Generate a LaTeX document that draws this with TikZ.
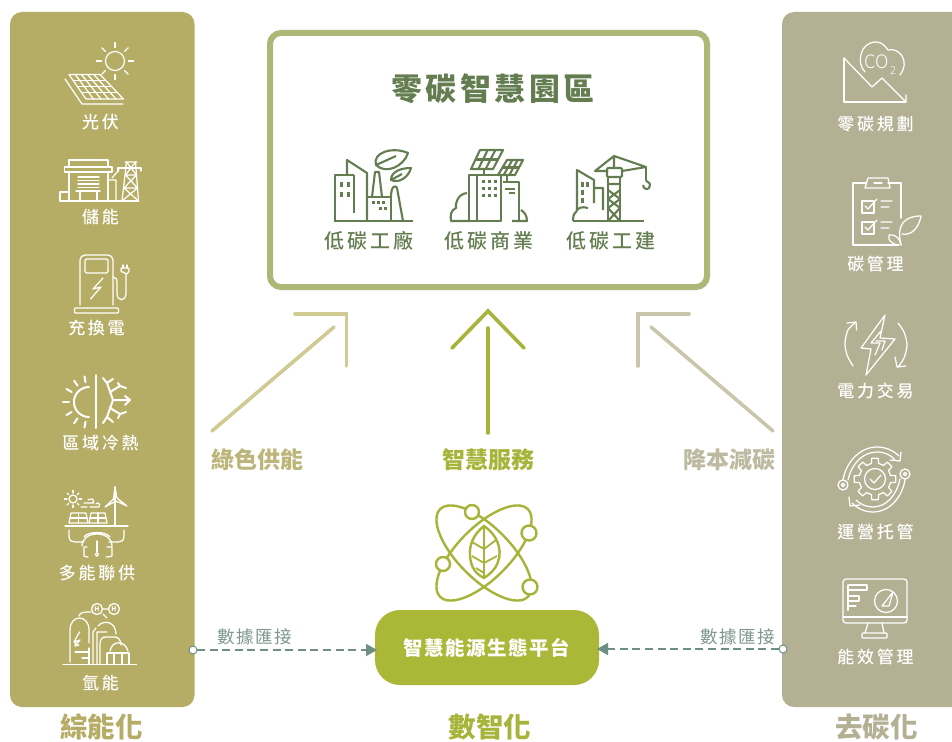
\documentclass[tikz,border=0pt]{standalone}
\usepackage{fontspec}
\setmainfont{Noto Sans CJK TC}
\newfontfamily\cjkheavy{Noto Sans CJK TC Black}
\newfontfamily\cjkmed{Noto Sans CJK TC Medium}
\newfontfamily\cjklight{Noto Sans CJK TC Light}
\usetikzlibrary{calc,arrows.meta}
\definecolor{olivepanel}{HTML}{B5AC66}
\definecolor{greypanel}{HTML}{B3B093}
\definecolor{framegreen}{HTML}{AEB778}
\definecolor{darkgreen}{HTML}{647D50}
\definecolor{limefill}{HTML}{ABB737}
\definecolor{limeline}{HTML}{A6B53A}
\definecolor{arrowolive}{HTML}{CFCB92}
\definecolor{arrowgrey}{HTML}{C9C6AC}
\definecolor{textolive}{HTML}{BDB67B}
\definecolor{textgrey}{HTML}{BCBAA0}
\definecolor{linkteal}{HTML}{6F8F83}
\definecolor{tealtext}{HTML}{7F978E}
\newcommand{\gridpanel}[7]{%
  \coordinate (pA) at #2; \coordinate (pB) at #3; \coordinate (pC) at #4; \coordinate (pD) at #5;
  \draw[#1] (pA)--(pB)--(pC)--(pD)--cycle;
  \foreach \i in {1,...,#6}{\pgfmathsetmacro\tval{\i/(#6+1)}\draw[#1] ($(pA)!\tval!(pB)$)--($(pD)!\tval!(pC)$);}
  \foreach \i in {1,...,#7}{\pgfmathsetmacro\tval{\i/(#7+1)}\draw[#1] ($(pA)!\tval!(pD)$)--($(pB)!\tval!(pC)$);}}
\tikzset{
  panelL/.style={fill=olivepanel,rounded corners=12pt,minimum width=184.5pt,minimum height=695pt,inner sep=0pt,outer sep=0pt},
  panelR/.style={fill=greypanel,rounded corners=12pt,minimum width=200pt,minimum height=695pt,inner sep=0pt,outer sep=0pt},
  framebox/.style={draw=framegreen,line width=6pt,fill=white,rounded corners=11pt,minimum width=437pt,minimum height=254pt,inner sep=0pt,outer sep=0pt},
  platform/.style={fill=limefill,rounded corners=25pt,minimum width=224pt,minimum height=75pt,inner sep=0pt,outer sep=0pt,text=white},
  platformtext/.style={text=white,inner sep=0pt,font=\fontsize{19.5}{19.5}\selectfont\bfseries\addfontfeature{LetterSpace=8}},
  whitelabel/.style={text=white,inner sep=0pt,font=\fontsize{17}{17}\cjkmed\addfontfeature{LetterSpace=16}},
  greenlabel/.style={text=darkgreen,inner sep=0pt,font=\fontsize{20}{20}\cjkmed\addfontfeature{LetterSpace=15}},
  titlelabel/.style={text=darkgreen,inner sep=0pt,font=\fontsize{31}{31}\cjkheavy\addfontfeature{LetterSpace=11}},
  midlabel/.style={inner sep=0pt,font=\fontsize{23}{23}\selectfont\bfseries},
  biglabel/.style={inner sep=0pt,font=\fontsize{27.5}{27.5}\selectfont\bfseries},
  linklabel/.style={text=tealtext,inner sep=0pt,font=\fontsize{17.5}{17.5}\selectfont\addfontfeature{LetterSpace=9}},
  ic/.style={draw=white,line width=1.25pt,line cap=round,line join=round},
  icb/.style={draw=white,line width=2pt,line cap=round,line join=round},
  ig/.style={draw=darkgreen,line width=2.1pt,line join=round},
  wf/.style={fill=darkgreen,draw=none},
  atomline/.style={draw=limeline,line width=2.4pt},
  bigarrow/.style={line width=3.6pt,line cap=round,line join=miter},
  linkdot/.style={circle,draw=linkteal,fill=white,line width=1pt,minimum size=8pt,inner sep=0pt,outer sep=0pt},
  linkline/.style={draw=linkteal,line width=1.6pt,dash pattern=on 8pt off 4.6pt,-{Triangle[length=11pt,width=12pt,fill=linkteal]},shorten >=-2pt},
}
\begin{document}
\begin{tikzpicture}[x=1pt,y=-1pt]
\clip (0,0) rectangle (952,741);
\fill[white] (0,0) rectangle (952,741);
% panels
\node[panelL] (lpanel) at (102.25,359.5) {};
\node[panelR] (rpanel) at (882,359.5) {};
\node[framebox] (zone) at (488.5,160) {};
\node[platform] (plat) at (487,647.5) {};
\node[platformtext] (plattext) at (487,648) {智慧能源生態平台};
% titles
\node[titlelabel] (title) at (493,89) {零碳智慧園區};
\node[greenlabel] (g1) at (369,241) {低碳工廠};
\node[greenlabel] (g2) at (489,241) {低碳商業};
\node[greenlabel] (g3) at (611,241) {低碳工建};
\node[whitelabel] (l1) at (100.5,122) {光伏};
\node[whitelabel] (l2) at (100.5,217) {儲能};
\node[whitelabel] (l3) at (96.5,328) {充換電};
\node[whitelabel] (l4) at (100.5,443) {區域冷熱};
\node[whitelabel] (l5) at (97,573) {多能聯供};
\node[whitelabel] (l6) at (100.5,683) {氫能};
\node[whitelabel] (r1) at (875.5,124) {零碳規劃};
\node[whitelabel] (r2) at (875.5,264) {碳管理};
\node[whitelabel] (r3) at (875.5,391) {電力交易};
\node[whitelabel] (r4) at (875.5,532) {運營托管};
\node[whitelabel] (r5) at (875.5,657) {能效管理};
\node[biglabel,text=olivepanel] (b1) at (101.5,727) {綜能化};
\node[biglabel,text=limeline] (b2) at (490,727) {數智化};
\node[biglabel,text=greypanel] (b3) at (876.5,727) {去碳化};
\node[midlabel,text=textolive] (m1) at (257.5,460) {綠色供能};
\node[midlabel,text=limeline] (m2) at (488,460) {智慧服務};
\node[midlabel,text=textgrey] (m3) at (729.5,460) {降本減碳};
\node[linklabel] (k1) at (254.5,637) {數據匯接};
\node[linklabel] (k2) at (737.5,637) {數據匯接};
% large arrows
\coordinate (a1s) at (212,431); \coordinate (a1e) at (334,327);
\coordinate (a1p) at (295,314); \coordinate (a1c) at (346.5,314); \coordinate (a1q) at (346.5,366);
\draw[bigarrow,arrowolive] (a1s) -- (a1e);
\draw[bigarrow,arrowolive] (a1p) -- (a1c) -- (a1q);
\coordinate (a2s) at (488,433); \coordinate (a2e) at (488,328);
\coordinate (a2p) at (452,348); \coordinate (a2c) at (488,311); \coordinate (a2q) at (524,348);
\draw[bigarrow,limeline] (a2s) -- (a2e);
\draw[bigarrow,limeline] (a2p) -- (a2c) -- (a2q);
\coordinate (a3s) at (773,431); \coordinate (a3e) at (651,327);
\coordinate (a3p) at (689,314); \coordinate (a3c) at (638,314); \coordinate (a3q) at (638,366);
\draw[bigarrow,arrowgrey] (a3s) -- (a3e);
\draw[bigarrow,arrowgrey] (a3p) -- (a3c) -- (a3q);
% links
\node[linkdot] (ld) at (193,650) {};
\node[linkdot] (rd) at (783,649) {};
\draw[linkline] (ld) -- (ld -| plat.west);
\draw[linkline] (rd) -- (rd -| plat.east);
% atom icon
\draw[atomline] (484,553) ellipse [x radius=62,y radius=26,rotate=45];
\draw[atomline] (484,553) ellipse [x radius=62,y radius=26,rotate=-45];
\foreach \px/\py/\pr in {472/512/7,529/533/7.5,443/564/7,530/587/7.5}
  \draw[atomline,fill=white] (\px,\py) circle[radius=\pr];
\draw[atomline] (484,526) .. controls (496,534) and (503,548) .. (498,562) .. controls (495,570) and (490,574) .. (484,578) .. controls (476,574) and (471,568) .. (470,556) .. controls (469,544) and (474,534) .. (484,526) -- cycle;
\draw[atomline,line width=1.8pt] (484,526) -- (484,578);
\draw[atomline,line width=1.8pt] (484,549) -- (496,540) (484,563) -- (497,556) (484,549) -- (472,542) (484,563) -- (472,556) (484,573) -- (476,568);
% ---------- left icons
% solar
\draw[ic] (115,61) circle[radius=9.5];
\foreach \a in {0,45,...,315}
  \draw[ic] ({115+13.5*cos(\a)},{61+13.5*sin(\a)}) -- ({115+18.5*cos(\a)},{61+18.5*sin(\a)});
\gridpanel{ic}{(69,74.5)}{(100,74.5)}{(123.5,99)}{(86,99)}{4}{3}
\draw[ic] (65,79) -- (82,104) -- (123,104);
% storage
\draw[ic] (69,167) -- (69,160) -- (108,160) -- (108,167);
\draw[ic] (64.5,167) rectangle (112,172);
\draw[ic] (69,172) -- (69,201) (108,172) -- (108,201);
\draw[ic] (78,177) -- (99,177) (78,180.5) -- (99,180.5) (78,184) -- (99,184) (78,187.5) -- (99,187.5);
\draw[ic] (76,191) -- (100,191) (80,191) -- (80,201) (97,191) -- (97,201);
\draw[ic] (60,201) -- (60,192) -- (69,192);
\draw[ic] (60,201) -- (138.5,201);
\draw[ic] (108,180) -- (116,180) -- (116,201) (112,178) -- (119,170);
\draw[ic] (125,162) -- (137,162) (126.5,162) -- (122,201) (135.5,162) -- (138.5,201);
\draw[ic] (118,171) -- (118,168) -- (141,168) -- (141,171);
\draw[ic] (125.5,175) -- (136.5,175) (124,188) -- (137.5,188) (125.5,175) -- (137.5,188) (136.5,175) -- (124,188) (124,188) -- (138.5,201) (137.5,188) -- (122,201) (126.5,162) -- (136.5,175) (135.5,162) -- (125.5,175);
% charger
\draw[ic,rounded corners=5pt] (80,305) -- (80,255) -- (113,255) -- (113,305);
\draw[ic,rounded corners=1.5pt] (85,259) rectangle (108,273);
\draw[ic,rounded corners=1pt] (74.5,308) rectangle (118.5,313);
\draw[ic] (103,278) -- (93,289) -- (101,287) -- (90.5,299);
\draw[ic] (113,277) .. controls (116,277) and (117,279) .. (117,283) -- (117,293) .. controls (117,302) and (126,302) .. (126,293) -- (126,274);
\draw[ic,rounded corners=1pt] (121,268) -- (129,268) -- (129,272) -- (126,274.5) -- (124,272) -- (121,272) -- cycle;
\draw[ic] (123,268) -- (123,265) (127,268) -- (127,265);
% district heat/cool
\draw[icb] (96,375) -- (96,428);
\draw[icb] plot[domain=90:270,samples=30] ({89+15*cos(\x)},{402+15*sin(\x)});
\foreach \a in {100,125,150,180,210,235,260}
  \draw[icb] ({89+20*cos(\a)},{402+20*sin(\a)}) -- ({89+26*cos(\a)},{402+26*sin(\a)});
\draw[icb] (103,378) -- (107,383) -- (113,400) -- (107,417) -- (103,423);
\draw[icb] (107,383) -- (113,379) (107,417) -- (113,422);
\draw[icb] (113,400) -- (130,400) (125,396) -- (130,400) -- (125,405);
\draw[icb] (110,392) -- (120,386) (118,383) -- (120,386) -- (126,388);
\draw[icb] (110,408) -- (120,414) (118,418) -- (120,414) -- (126,412);
% multi-energy
\draw[ic] (73,499) circle[radius=4];
\foreach \a in {0,45,...,315}
  \draw[ic] ({73+6*cos(\a)},{499+6*sin(\a)}) -- ({73+8.5*cos(\a)},{499+8.5*sin(\a)});
\draw[ic] (84,503) -- (94,503) (88,500) .. controls (94,497) and (95,502) .. (92,503) (90,507) -- (99,507) .. controls (101,503) and (97,502) .. (96,504) (81,507) -- (87,507);
\gridpanel{ic}{(71,513)}{(86,513)}{(88,523)}{(69,523)}{1}{1}
\gridpanel{ic}{(91,513)}{(105,513)}{(107,523)}{(89,523)}{1}{1}
\draw[ic] (115,487) -- (115,526);
\draw[ic] (115,487) -- (113.5,499) -- (105,507) -- (116,501) -- (127,506) -- (117,498) -- cycle;
\draw[ic] (65,526) -- (128,526);
\draw[ic] (69,530) -- (69,536) .. controls (69,541) and (72,542) .. (75,542) -- (84,542);
\draw[ic] (124,530) -- (124,536) .. controls (124,541) and (121,542) .. (118,542) -- (109,542);
\draw[ic] (82,546) .. controls (82,530) and (112,530) .. (112,546) (84,537) .. controls (88,531) and (106,531) .. (110,537);
\draw[ic] (87,547) -- (84,547) -- (84,556) .. controls (84,556) and (85,557) .. (88,557) (107,547) -- (112,547) -- (112,556) .. controls (112,556) and (110,557) .. (106,557);
\draw[ic] (97,541) -- (97,552);
\draw[ic] (97,554.5) circle[radius=1.8];
% hydrogen
\draw[ic] (97,609) circle[radius=5.5] (114,609) circle[radius=5.5] (102.5,609) -- (108.5,609);
\node[text=white,inner sep=0pt,font=\fontsize{6.5}{6.5}\selectfont\bfseries] (h1) at (97,609) {H};
\node[text=white,inner sep=0pt,font=\fontsize{6.5}{6.5}\selectfont\bfseries] (h2) at (114,609) {H};
\draw[ic] (79,616) .. controls (80,612) and (84,612) .. (91,612);
\draw[ic] (103,614) -- (107,618);
\draw[ic] (70,662) -- (70,630) .. controls (70,614) and (89,614) .. (89,630) -- (89,643);
\draw[ic] (79.5,632) -- (74,642) -- (80,640) -- (75,646) (75,646) -- (79,645) (75,646) -- (75.5,642);
\draw[ic] (75,652) -- (89,652) (82,658) -- (89,658) (89,648) -- (89,664);
\draw[ic] (93,664) -- (93,632) -- (96,628) (97,664) -- (97,632) -- (107,632) (98,626) .. controls (104,619) and (116,622) .. (116,634);
\draw[ic] (100,664) -- (100,645) .. controls (100,638) and (103,637) .. (106,637) -- (115,637) .. controls (118,637) and (121,640) .. (121,645);
\draw[ic] (107,653) -- (129,653) (107,653) -- (107,664) (129,653) -- (129,664) (114,653) -- (114,664) (122,653) -- (122,664);
\draw[ic] (110,651) .. controls (112,640) and (125,640) .. (128,651);
\draw[ic] (63,664.5) -- (136.5,664.5);
% ---------- right icons
% zero plan
\draw[ic] (844,58) -- (844,102) -- (906,102);
\draw[ic] (844,58) -- (872,87) -- (882,78) -- (906,102) (902,102) -- (906,102) -- (906,95);
\draw[ic] (865,72) .. controls (856,63) and (860,42) .. (876,42) .. controls (882,42) and (885,46) .. (888,50) .. controls (898,47) and (911,60) .. (900,75);
\node[text=white,inner sep=0pt,font=\fontsize{18.5}{18.5}\cjklight] (co) at (877,61.5) {CO};
\node[text=white,inner sep=0pt,font=\fontsize{11}{11}\cjklight] (two) at (893,71) {2};
% carbon management
\draw[ic] (866,183) -- (853,183) -- (853,245) -- (899,245) (888,183) -- (901,183) -- (901,218);
\draw[ic] (865,188) -- (868,178) -- (888,178) -- (890,188) -- cycle;
\draw[ic] (874,183) -- (882,183);
\draw[ic] (862,201) rectangle (874,213);
\draw[ic] (865,206) -- (868,209) -- (877,199) (881,201) -- (892,201) (881,207) -- (889,207);
\draw[ic] (862,222) rectangle (874,234);
\draw[ic] (865,227) -- (868,230) -- (877,220) (881,222) -- (892,222) (881,228) -- (889,228);
\draw[ic] (901,245) .. controls (896,224) and (905,216) .. (921,216) .. controls (919,228) and (911,236) .. (902,234);
\draw[ic] (898,245) .. controls (890,243) and (888,240) .. (889,235) .. controls (895,234) and (900,238) .. (901,245);
% power trade
\draw[ic] (885,315) -- (861,348) -- (871,349) -- (866,375) -- (895,339) -- (880,338) -- cycle;
\draw[ic] (881,331) -- (871,343) -- (880,343) -- (875,355) (876,341) -- (885,341) -- (882,350);
\draw[ic] plot[smooth] coordinates {(856,322) (848,330) (845,343) (847,355) (853,366)};
\draw[ic] plot[smooth] coordinates {(898,323) (904,332) (907,345) (904,358) (898,367)};
\draw[ic] (847,323) -- (856,322) -- (856.5,330);
\draw[ic] (895,357) -- (897,367) -- (906,366);
% operations
\draw[ic] (875,479) circle[radius=10.5];
\draw[ic] (870,479) -- (874,483) -- (881,475);
\foreach \a in {0,45,...,315}
  \draw[ic] ({875+16*cos(\a-13)},{479+16*sin(\a-13)}) -- ({875+21*cos(\a-9)},{479+21*sin(\a-9)}) -- ({875+21*cos(\a+9)},{479+21*sin(\a+9)}) -- ({875+16*cos(\a+13)},{479+16*sin(\a+13)}) -- ({875+16*cos(\a+32)},{479+16*sin(\a+32)});
\draw[ic] (843,485) circle[radius=5] (843,485) circle[radius=1.8];
\draw[ic] (905,474) circle[radius=5] (905,474) circle[radius=1.8];
\draw[ic] (843,480) .. controls (846,462) and (860,447) .. (877,447) .. controls (886,447) and (894,451) .. (899,456);
\draw[ic] (848,480) .. controls (851,465) and (862,452) .. (877,452) .. controls (885,452) and (891,455) .. (895,460);
\draw[ic] (901,452) -- (900,461) -- (890,460);
\draw[ic] (905,479) .. controls (903,496) and (890,512) .. (873,512) .. controls (864,512) and (857,508) .. (852,503);
\draw[ic] (900,479) .. controls (897,494) and (887,507) .. (873,507) .. controls (866,507) and (860,504) .. (856,500);
\draw[ic] (849,497) -- (850,506) -- (860,505);
% monitor
\draw[ic,rounded corners=3pt] (843,579) rectangle (907,623);
\draw[ic] (843,617) -- (907,617);
\draw[ic] (868,623) -- (865,633) (882,623) -- (884,633);
\draw[ic,rounded corners=1pt] (862,633) rectangle (887,638);
\draw[ic] (886,601) circle[radius=11.5];
\draw[ic] (882,606) -- (893,592) -- (889,606) -- cycle;
\draw[icb] (848,585) -- (848,610);
\draw[ic] (849,585) -- (867,585) (849,590) -- (867,590) -- (867,585) (849,596) -- (859,596) (849,601) -- (859,601) -- (859,596) (849,606) -- (856,606);
% ---------- factory
\draw[ig] (334,221) -- (413,221);
\draw[ig] (335,221) -- (335,175) -- (347,175) (354,175) -- (354,213) (347,175) -- (354,175);
\draw[ig] (347,175) -- (347,160) -- (367,173) -- (367,221);
\foreach \wx in {340,347} \foreach \wy in {182,192} \fill[wf] (\wx,\wy) rectangle ++(2.6,5);
\draw[ig] (367,197) -- (391,197) -- (391,221);
\draw[ig] (372,197) -- (375,172) -- (379,172) -- (382,197);
\draw[ig] (391,197) .. controls (391,185) and (396,185) .. (397,188) -- (403,221);
\foreach \wx/\wy in {372/201,377/201,382/201,379/207,384/207} \fill[wf] (\wx,\wy) rectangle ++(2.6,2.6);
\draw[ig] (376,165) .. controls (372,153) and (392,146) .. (408,153) .. controls (404,166) and (386,175) .. (376,165) -- (396,156);
\draw[ig] (391,180) .. controls (391,172) and (400,168) .. (411,168) .. controls (409,176) and (400,184) .. (391,180) -- (402,174);
% commerce
\draw[ig] (469,221) -- (469,175) -- (501,175) -- (501,221) -- (469,221);
\draw[ig] (477,175) -- (477,221);
\foreach \wx in {482,488,494} \foreach \wy in {180,187,194} \fill[wf] (\wx,\wy) rectangle ++(3,3);
\draw[ig] (503,182) -- (519,182) -- (519,221) (505,189) -- (515,189) (509,193) -- (515,193);
\draw[ig] (512,221) -- (527,221) .. controls (527,215) and (524,212) .. (521,210);
\draw[ig] (467,193) .. controls (458,194) and (455,203) .. (456,208) .. controls (451,210) and (450,215) .. (451,221) -- (469,221);
\gridpanel{ig}{(480,150)}{(503,150)}{(493,169)}{(471,169)}{2}{1}
\gridpanel{ig}{(507,160)}{(523,160)}{(515,175)}{(498,175)}{2}{1}
\draw[ig] (484,169) -- (484,175) (507,175) -- (507,182);
% construction
\draw[ig] (573,221) -- (644,221);
\draw[ig] (608,177) -- (608,221) (620,177) -- (620,221);
\draw[ig] (608,184) -- (620,184) (608,190) -- (620,199) -- (608,208) -- (620,221) (620,190) -- (608,199) -- (620,208) -- (608,221);
\draw[ig,rounded corners=1pt,fill=white] (607,168) rectangle (622,177);
\draw[ig] (608,171) -- (595,171) -- (614,156) -- (646,167) -- (622,171) (614,156) -- (614,168);
\draw[ig] (646,167) -- (646,180);
\draw[ig] (643,185) .. controls (643,190) and (650,191) .. (650,185) .. controls (650,182) and (646,182) .. (646,180);
\draw[ig] (577,210) -- (577,170) -- (594,180) -- (594,203) (594,188) -- (603,188) -- (603,210);
\foreach \wx/\wy in {581/182,586/182,581/190,581/198} \fill[wf] (\wx,\wy) rectangle ++(2.6,5);
\draw[ig] (588,208) .. controls (582,206) and (577,208) .. (576,212) .. controls (573,214) and (573,218) .. (573,221);
\end{tikzpicture}
\end{document}
